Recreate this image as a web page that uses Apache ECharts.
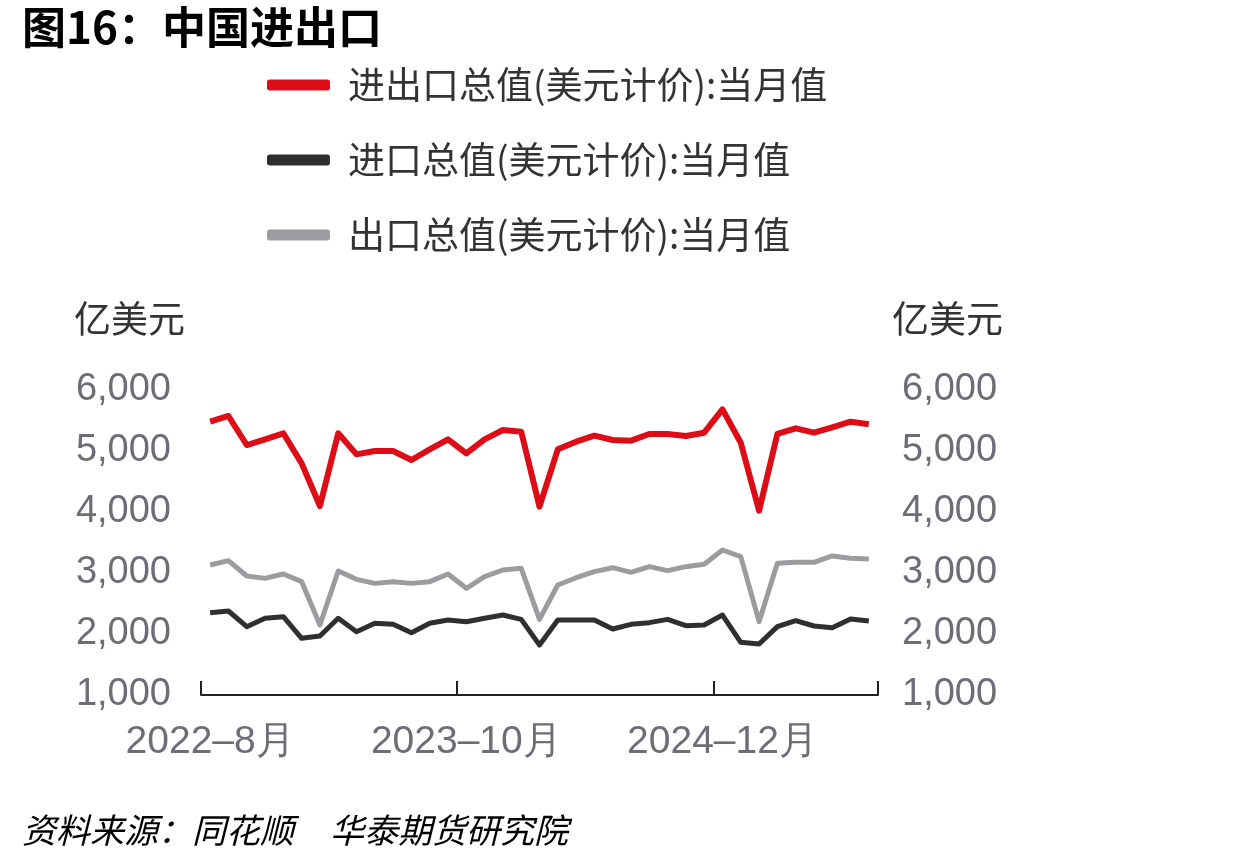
<!DOCTYPE html>
<html>
<head>
<meta charset="utf-8">
<script src="https://cdn.jsdelivr.net/npm/echarts@6/dist/echarts.min.js"></script>
<style>
  html, body { margin: 0; padding: 0; background: #fff; }
  #chart { width: 1240px; height: 866px; }
</style>
</head>
<body>
<div id="chart"></div>
<script>
const months = [
  "2022–8月", "2022–9月", "2022–10月", "2022–11月", "2022–12月",
  "2023–1月", "2023–2月", "2023–3月", "2023–4月", "2023–5月", "2023–6月",
  "2023–7月", "2023–8月", "2023–9月", "2023–10月", "2023–11月", "2023–12月",
  "2024–1月", "2024–2月", "2024–3月", "2024–4月", "2024–5月", "2024–6月",
  "2024–7月", "2024–8月", "2024–9月", "2024–10月", "2024–11月", "2024–12月",
  "2025–1月", "2025–2月", "2025–3月", "2025–4月", "2025–5月", "2025–6月",
  "2025–7月", "2025–8月"
];
// 亿美元
const totalTrade = [
  5480, 5574, 5098, 5191, 5290, 4798, 4098, 5290, 4945, 5000, 5000, 4852,
  5027, 5191, 4961, 5191, 5344, 5317, 4087, 5027, 5153, 5251, 5180, 5169,
  5279, 5279, 5246, 5300, 5683, 5136, 4021, 5279, 5372, 5300, 5388, 5480,
  5437
];
const imports = [
  2350, 2377, 2120, 2257, 2284, 1929, 1967, 2257, 2038, 2175, 2159, 2022,
  2175, 2230, 2202, 2257, 2311, 2240, 1820, 2230, 2230, 2230, 2082, 2159,
  2186, 2240, 2137, 2148, 2311, 1863, 1836, 2120, 2219, 2131, 2104, 2246,
  2213
];
const exports = [
  3131, 3202, 2951, 2912, 2984, 2858, 2148, 3033, 2896, 2830, 2858, 2830,
  2858, 2984, 2749, 2940, 3049, 3076, 2240, 2803, 2923, 3022, 3087, 3011,
  3104, 3038, 3104, 3142, 3377, 3268, 2202, 3158, 3175, 3175, 3279, 3241,
  3230
];
const seriesNames = [
  "进出口总值(美元计价):当月值",
  "进口总值(美元计价):当月值",
  "出口总值(美元计价):当月值"
];
const colors = ["#dc0d17", "#2f2f2f", "#9b9c9f"];

const cjk = '"Noto Sans CJK SC", "Noto Sans", sans-serif';
const num = '"Liberation Sans", Arial, sans-serif';
const labelGray = "#6d6d78";

const chart = echarts.init(document.getElementById("chart"), null, { renderer: "canvas" });

const yAxisBase = (pos, margin) => ({
  type: "value",
  position: pos,
  min: 1000,
  max: 6000,
  interval: 1000,
  axisLine: { show: false },
  axisTick: { show: false },
  splitLine: { show: false },
  axisLabel: {
    margin: margin,
    fontSize: 38,
    fontFamily: num,
    color: labelGray,
    formatter: (v) => v.toLocaleString("en-US"),
  },
});

chart.setOption({
  animation: false,
  backgroundColor: "#fff",
  grid: { left: 201, right: 362, top: 390, bottom: 171 },
  legend: {
    orient: "vertical",
    left: 267,
    top: 63,
    padding: 0,
    itemWidth: 63,
    itemHeight: 11,
    itemGap: 31,
    icon: "roundRect",
    selectedMode: false,
    textStyle: {
      fontSize: 37,
      lineHeight: 44,
      fontFamily: cjk,
      color: "#333",
      padding: [0, 0, 0, 13],
    },
    data: seriesNames,
  },
  graphic: [
    {
      type: "text", left: 22, top: 5,
      style: { text: "图16：中国进出口", font: "bold 44px " + cjk, fill: "#000" },
    },
    {
      type: "text", left: 74, top: 300,
      style: { text: "亿美元", font: "37px " + cjk, fill: "#333" },
    },
    {
      type: "text", left: 892, top: 300,
      style: { text: "亿美元", font: "37px " + cjk, fill: "#333" },
    },
    {
      type: "text", left: 22, top: 813,
      style: { text: "资料来源：同花顺", font: "italic 34px " + cjk, fill: "#000" },
    },
    {
      type: "text", left: 330, top: 813,
      style: { text: "华泰期货研究院", font: "italic 34px " + cjk, fill: "#000" },
    },
  ],
  xAxis: {
    type: "category",
    data: months,
    boundaryGap: true,
    axisLine: { show: true, lineStyle: { color: "#222", width: 2 } },
    axisTick: { show: true, inside: true, length: 14, interval: 13, lineStyle: { color: "#222", width: 2 } },
    axisLabel: {
      interval: 13,
      margin: 28,
      fontSize: 39,
      fontFamily: num,
      color: labelGray,
    },
  },
  yAxis: [yAxisBase("left", 30), yAxisBase("right", 24)],
  series: [
    { name: seriesNames[0], data: totalTrade, color: colors[0], lineW: 6 },
    { name: seriesNames[1], data: imports, color: colors[1], lineW: 5 },
    { name: seriesNames[2], data: exports, color: colors[2], lineW: 5 },
  ].map((s) => ({
    name: s.name,
    type: "line",
    yAxisIndex: 0,
    data: s.data,
    showSymbol: false,
    symbol: "none",
    color: s.color,
    lineStyle: { width: s.lineW, color: s.color, join: "round" },
    z: s.name === seriesNames[0] ? 3 : 2,
  })),
});
</script>
</body>
</html>
